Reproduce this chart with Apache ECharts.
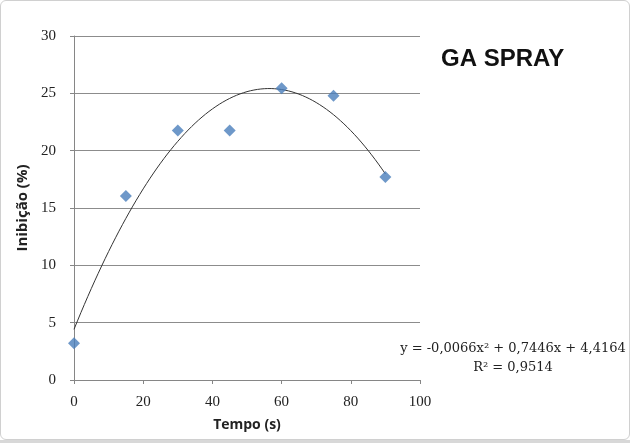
<!DOCTYPE html>
<html><head><meta charset="utf-8">
<script src="https://cdn.jsdelivr.net/npm/echarts@6/dist/echarts.min.js"></script>
<style>
html,body{margin:0;padding:0;background:#fff;}
#frame{position:absolute;left:0;top:0;width:628px;height:438px;border:1px solid #d0d0d0;border-radius:6px;}
#band{position:absolute;left:0;top:440px;width:630px;height:3px;background:#d8d8d8;}
#chart{position:absolute;left:0;top:0;width:630px;height:443px;}
</style></head>
<body>
<div id="frame"></div><div id="band"></div>
<div id="chart"></div>
<script>
const tempo = [0, 15, 30, 45, 60, 75, 90];
const inibicao = [3.2, 16.05, 21.75, 21.75, 25.45, 24.8, 17.7];
const trendCoef = [-0.0066, 0.7446, 4.4164]; // from displayed equation
const trendRange = [0, 90];
const titleText = 'GA SPRAY';
const eqText = 'y = -0,0066x² + 0,7446x + 4,4164';
const r2Text = 'R² = 0,9514';

const trend = [];
for (let x = trendRange[0]; x <= trendRange[1]; x += 1) {
  trend.push([x, trendCoef[0]*x*x + trendCoef[1]*x + trendCoef[2]]);
}
const chart = echarts.init(document.getElementById('chart'));
chart.setOption({
  animation: false,
  grid: {left: 74, top: 36, width: 346, height: 344, containLabel: false},
  xAxis: {
    type: 'value', min: 0, max: 100, interval: 20,
    name: 'Tempo (s)', nameLocation: 'middle', nameGap: 38,
    nameTextStyle: {fontFamily: 'Open Sans', fontWeight: 'bold', fontSize: 14, color: '#222'},
    axisLine: {lineStyle: {color: '#868686'}},
    axisTick: {show: true, inside: false, length: 4, lineStyle: {color: '#868686'}},
    axisLabel: {fontFamily: 'Liberation Serif', fontSize: 15, color: '#222', margin: 15},
    splitLine: {show: false}
  },
  yAxis: {
    type: 'value', min: 0, max: 30, interval: 5,
    name: 'Inibição (%)', nameLocation: 'middle', nameGap: 40, nameRotate: 90,
    nameTextStyle: {fontFamily: 'Open Sans', fontWeight: 'bold', fontSize: 15, color: '#222'},
    axisLine: {show: true, lineStyle: {color: '#868686'}},
    axisTick: {show: true, inside: false, length: 4, lineStyle: {color: '#868686'}},
    axisLabel: {fontFamily: 'Liberation Serif', fontSize: 15, color: '#222', margin: 18},
    splitLine: {lineStyle: {color: '#8c8c8c', width: 1}}
  },
  graphic: [
    {type: 'text', left: 441, top: 47, style: {text: titleText, font: 'bold 24px "Liberation Sans"', fill: '#111'}},
    {type: 'text', x: 513, y: 339, style: {text: eqText + '\n' + r2Text, font: '13px "DejaVu Serif"', fill: '#222', align: 'center', lineHeight: 19, backgroundColor: '#fff'}, z: 100}
  ],
  series: [
    {type: 'line', data: trend, showSymbol: false, smooth: false, lineStyle: {color: '#333', width: 1}, z: 2},
    {type: 'scatter', data: tempo.map((t, i) => [t, inibicao[i]]), symbol: 'diamond', symbolSize: 12, itemStyle: {color: '#4a7ebb'}, z: 3}
  ]
});
</script>
</body></html>
